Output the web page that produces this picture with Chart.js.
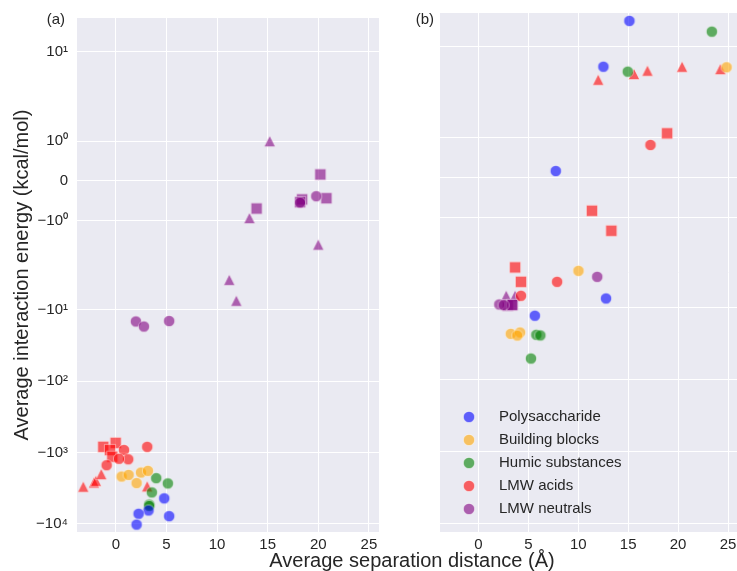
<!DOCTYPE html>
<html>
<head>
<meta charset="utf-8">
<script src="https://cdn.jsdelivr.net/npm/chart.js@4/dist/chart.umd.min.js"></script>
<style>
  html, body { margin: 0; padding: 0; background: #ffffff; overflow: hidden; }
  body { width: 737px; height: 571px; position: relative; }
  canvas { position: absolute; top: 0; }
  #left { left: 0; }
  #right { left: 395px; }
</style>
</head>
<body>
<canvas id="left" width="737" height="571"></canvas>
<canvas id="right" width="350" height="571"></canvas>
<script>
// ---- categories and axis ticks ----
const categories = ['Polysaccharide', 'Building blocks', 'Humic substances', 'LMW acids', 'LMW neutrals'];
const xTicks = [0, 5, 10, 15, 20, 25];
const yTicks = [10, 1, 0, -1, -10, -100, -1000, -10000];
const yTickLabels = ['10\u00B9', '10\u2070', '0', '\u221210\u2070', '\u221210\u00B9', '\u221210\u00B2', '\u221210\u00B3', '\u221210\u2074'];

// ---- panel (a): [separation distance (Å), interaction energy (kcal/mol)] ----
const polyA_circles = [[4.77, -4370], [5.26, -7760], [3.22, -6470], [2.24, -7190], [2.04, -10200]];
const blocksA_circles = [[0.56, -2160], [1.25, -2050], [2.47, -1900], [3.16, -1800], [2.04, -2670]];
const humicA_circles = [[3.98, -2280], [5.13, -2700], [3.55, -3610], [3.29, -5350], [3.29, -5600]];
const acidsA_circles = [[3.09, -830], [0.79, -920], [1.21, -1240], [0.30, -1220], [-0.92, -1500]];
const acidsA_squares = [[-1.25, -830], [-0.03, -730], [-0.59, -920], [-0.36, -1140]];
const acidsA_triangles = [[-3.23, -3000], [-2.17, -2620], [-1.98, -2480], [-1.45, -2000], [3.09, -2970]];
const neutralsA_circles = [[19.8, -0.39], [18.2, -0.55], [1.97, -14.5], [2.76, -17.1], [5.26, -14.3]];
const neutralsA_squares = [[20.2, 0.16], [20.8, -0.44], [18.4, -0.47], [18.2, -0.54], [13.9, -0.70]];
const neutralsA_triangles = [[15.2, 1.0], [13.2, -0.94], [20.0, -1.61], [11.2, -3.79], [11.9, -7.43]];

// ---- panel (b) ----
const polyB_circles = [[15.12, 23.0], [12.52, 5.32], [7.75, 0.158], [12.78, -7.43], [5.65, -12.9]];
const blocksB_circles = [[24.86, 5.22], [10.02, -3.07], [3.24, -23.0], [4.17, -22.0], [3.9, -24.3]];
const humicB_circles = [[23.38, 16.3], [14.96, 4.54], [5.8, -23.7], [6.2, -24.2], [5.26, -50.6]];
const acidsB_circles = [[17.23, 0.81], [7.88, -4.37], [4.26, -6.82]];
const acidsB_squares = [[18.9, 1.10], [11.37, -0.835], [13.31, -1.335], [3.67, -2.75], [4.26, -4.37]];
const acidsB_triangles = [[12.0, 3.51], [15.58, 4.22], [16.93, 4.69], [20.4, 5.32], [24.24, 4.94]];
const neutralsB_circles = [[11.9, -3.72], [2.09, -9.0], [2.52, -9.2]];
const neutralsB_squares = [[2.94, -9.3], [3.34, -9.2], [3.4, -9.1]];
const neutralsB_triangles = [[2.78, -6.8], [3.67, -6.8]];

const colors = [[0, 0, 255], [255, 165, 0], [0, 128, 0], [255, 0, 0], [128, 0, 128]];
const ALPHA = 0.6;
const FONT = '"Liberation Sans", Arial, sans-serif';
const TEXT = '#262626';

// ---- symmetric log scale (linear within ±2, log10 beyond) ----
const LINTHRESH = 2;
const LINSCALE = 1 / (1 - 1 / 10);
function symlog(v) {
  const a = Math.abs(v);
  const t = a <= LINTHRESH ? (a / LINTHRESH) * LINSCALE : LINSCALE + Math.log10(a / LINTHRESH);
  return Math.sign(v) * t;
}
function symexp(t) {
  const a = Math.abs(t);
  const v = a <= LINSCALE ? (a / LINSCALE) * LINTHRESH : LINTHRESH * Math.pow(10, a - LINSCALE);
  return Math.sign(t) * v;
}
class SymlogScale extends Chart.LinearScale {
  buildTicks() { return yTicks.map(v => ({ value: v })); }
  configure() {
    super.configure();
    this._tmin = symlog(this.min);
    this._tmax = symlog(this.max);
  }
  getPixelForValue(v) {
    return this.getPixelForDecimal((symlog(v) - this._tmin) / (this._tmax - this._tmin));
  }
  getValueForPixel(p) {
    return symexp(this._tmin + this.getDecimalForPixel(p) * (this._tmax - this._tmin));
  }
}
SymlogScale.id = 'symlog';
SymlogScale.defaults = Chart.LinearScale.defaults;
Chart.register(SymlogScale);

// ---- marker sprites ----
function makeMarker(shape, rgb) {
  const s = 18, m = s / 2, h = 5.6;
  const c = document.createElement('canvas');
  c.width = s; c.height = s;
  const g = c.getContext('2d');
  g.beginPath();
  if (shape === 'circle') {
    g.arc(m, m, h, 0, Math.PI * 2);
  } else if (shape === 'square') {
    g.rect(m - h, m - h, 2 * h, 2 * h);
  } else {
    g.moveTo(m, m - h);
    g.lineTo(m - h, m + h);
    g.lineTo(m + h, m + h);
    g.closePath();
  }
  g.fillStyle = `rgba(${rgb[0]},${rgb[1]},${rgb[2]},${ALPHA})`;
  g.fill();
  g.lineWidth = 0.75;
  g.strokeStyle = `rgba(255,255,255,${ALPHA})`;
  g.stroke();
  return c;
}
const shapes = ['circle', 'square', 'triangle'];
const sprites = colors.map(rgb => Object.fromEntries(shapes.map(sh => [sh, makeMarker(sh, rgb)])));

function buildDatasets(groups) {
  const out = [];
  groups.forEach((g, ci) => {
    shapes.forEach(sh => {
      const arr = g[sh];
      if (!arr || !arr.length) return;
      out.push({
        label: categories[ci],
        data: arr.map(([x, y]) => ({ x, y })),
        pointStyle: sprites[ci][sh],
        pointRadius: 6,
        showLine: false
      });
    });
  });
  return out;
}

const groupsA = [
  { circle: polyA_circles },
  { circle: blocksA_circles },
  { circle: humicA_circles },
  { circle: acidsA_circles, square: acidsA_squares, triangle: acidsA_triangles },
  { circle: neutralsA_circles, square: neutralsA_squares, triangle: neutralsA_triangles }
];
const groupsB = [
  { circle: polyB_circles },
  { circle: blocksB_circles },
  { circle: humicB_circles },
  { circle: acidsB_circles, square: acidsB_squares, triangle: acidsB_triangles },
  { circle: neutralsB_circles, square: neutralsB_squares, triangle: neutralsB_triangles }
];

// ---- plugins ----
const plotBackground = {
  id: 'plotBackground',
  beforeDraw(chart) {
    const { ctx, chartArea: a } = chart;
    ctx.save();
    ctx.fillStyle = '#EAEAF2';
    ctx.fillRect(a.left, a.top, a.right - a.left, a.bottom - a.top);
    ctx.restore();
  }
};

const annotationsA = {
  id: 'annotationsA',
  afterDraw(chart) {
    const { ctx, chartArea: a } = chart;
    ctx.save();
    ctx.fillStyle = TEXT;
    ctx.font = `15px ${FONT}`;
    ctx.textAlign = 'right';
    ctx.textBaseline = 'middle';
    ctx.fillText('(a)', 65, 20);
    // shared x-axis title
    ctx.font = `20px ${FONT}`;
    ctx.textAlign = 'center';
    ctx.fillText('Average separation distance (\u00C5)', 412, 561);
    // y-axis title
    ctx.translate(22, (a.top + a.bottom) / 2);
    ctx.rotate(-Math.PI / 2);
    ctx.fillText('Average interaction energy (kcal/mol)', 0, 0);
    ctx.restore();
  }
};

const annotationsB = {
  id: 'annotationsB',
  afterDraw(chart) {
    const { ctx } = chart;
    ctx.save();
    ctx.fillStyle = TEXT;
    ctx.font = `15px ${FONT}`;
    ctx.textAlign = 'right';
    ctx.textBaseline = 'middle';
    ctx.fillText('(b)', 434 - 395, 20);
    // legend
    ctx.textAlign = 'left';
    categories.forEach((name, i) => {
      const y = 417 + i * 23;
      const spr = sprites[i].circle;
      ctx.drawImage(spr, 469 - 395 - spr.width / 2, y - spr.height / 2);
      ctx.fillText(name, 499 - 395, y);
    });
    ctx.restore();
  }
};

function makeOptions(showYLabels, yAxisWidth, padRight) {
  return {
    responsive: false,
    animation: false,
    events: [],
    layout: { padding: { top: 13, right: padRight, bottom: 0, left: 0 } },
    plugins: { legend: { display: false }, tooltip: { enabled: false } },
    scales: {
      x: {
        type: 'linear',
        min: -3.85,
        max: 26.0,
        border: { display: false },
        grid: { color: '#ffffff', lineWidth: 1, drawTicks: false },
        afterBuildTicks(scale) { scale.ticks = xTicks.map(v => ({ value: v })); },
        afterFit(scale) { scale.height = 39; },
        ticks: {
          color: TEXT,
          font: { family: FONT, size: 15 },
          padding: 4,
          maxRotation: 0,
          autoSkip: false,
          callback: v => String(v)
        }
      },
      y: {
        type: 'symlog',
        min: -12950,
        max: 29.6,
        border: { display: false },
        grid: { color: '#ffffff', lineWidth: 1, drawTicks: false },
        afterFit(scale) { scale.width = yAxisWidth; },
        ticks: {
          display: showYLabels,
          color: TEXT,
          font: { family: FONT, size: 15 },
          padding: 9,
          autoSkip: false,
          callback: (v) => yTickLabels[yTicks.indexOf(v)]
        }
      }
    }
  };
}

new Chart(document.getElementById('left'), {
  type: 'scatter',
  data: { datasets: buildDatasets(groupsA) },
  options: makeOptions(true, 77, 737 - 379),
  plugins: [plotBackground, annotationsA]
});

new Chart(document.getElementById('right'), {
  type: 'scatter',
  data: { datasets: buildDatasets(groupsB) },
  options: makeOptions(false, 45, 3),
  plugins: [plotBackground, annotationsB]
});
</script>
</body>
</html>
